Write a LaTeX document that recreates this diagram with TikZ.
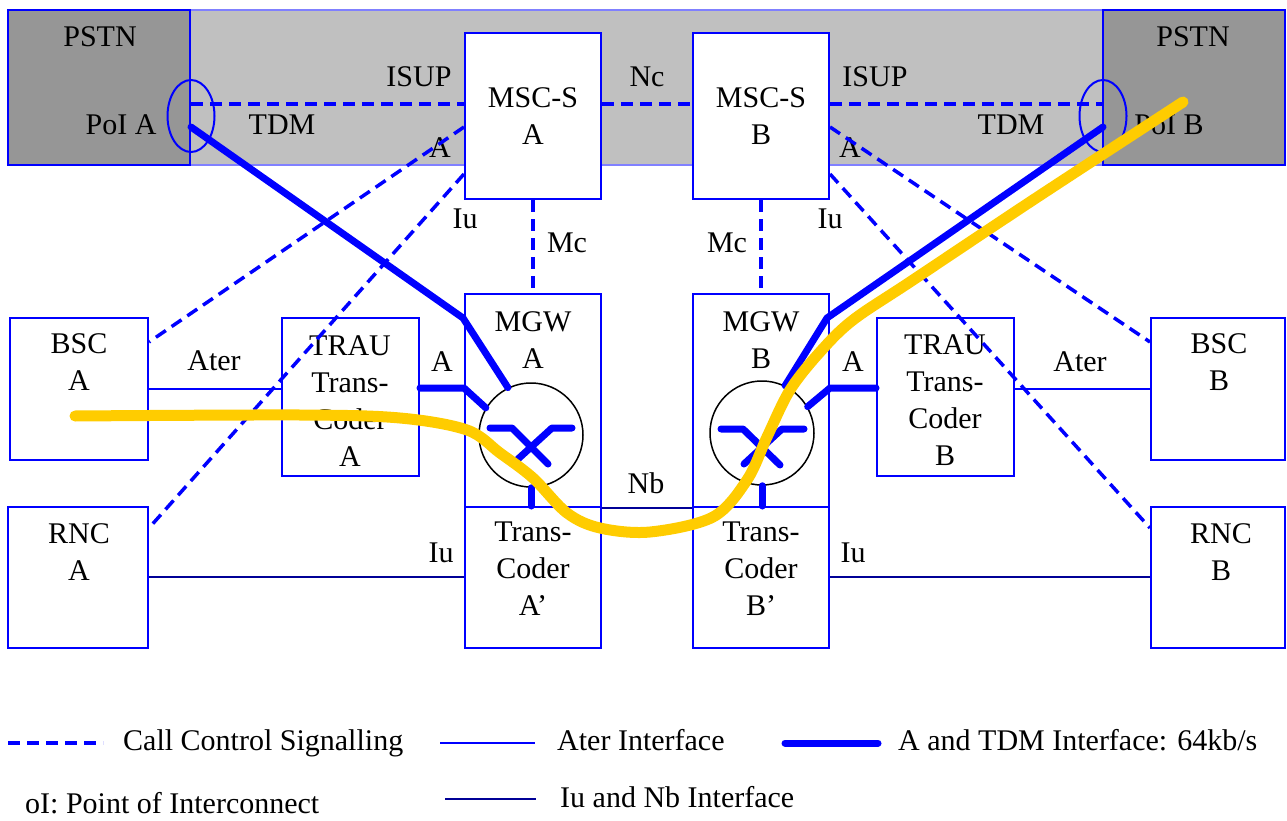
\documentclass[tikz,border=0pt]{standalone}
\usepackage{fontspec}
\setmainfont{Liberation Serif}
\usetikzlibrary{shapes.geometric}
\definecolor{myblue}{RGB}{0,0,255}
\definecolor{mynavy}{RGB}{0,0,150}
\definecolor{darkgr}{RGB}{150,150,150}
\definecolor{lightgr}{RGB}{192,192,192}
\definecolor{bandline}{RGB}{128,128,255}
\definecolor{myyellow}{RGB}{255,204,0}
\begin{document}
\begin{tikzpicture}[x=1pt,y=-1pt,
  box/.style={draw=myblue, line width=2pt, rectangle, inner sep=0pt},
  wbox/.style={box, fill=white},
  lbl/.style={font=\fontsize{30}{37}\selectfont, inner sep=0pt, align=center, text=black},
  sig/.style={draw=myblue, line width=3.5pt, dash pattern=on 12pt off 7pt},
  ater/.style={draw=myblue, line width=2pt},
  iunb/.style={draw=mynavy, line width=2.5pt},
  tdm/.style={draw=myblue, line width=7pt, line cap=round, line join=round},
  yel/.style={draw=myyellow, line width=11pt, line cap=round, line join=round},
  poi/.style={draw=myblue, line width=2pt, ellipse, minimum width=47pt, minimum height=72pt, inner sep=0pt},
  sw/.style={draw=black, line width=1.5pt, circle, minimum size=104pt, inner sep=0pt}
]
\useasboundingbox (0,0) rectangle (1287,821);

% top band and PSTNs
\node[draw=bandline, line width=1.5pt, fill=lightgr, rectangle, inner sep=0pt, minimum width=1277pt, minimum height=155pt] (band) at (646.5,87.5) {};
\node[box, fill=darkgr, minimum width=182pt, minimum height=155pt] (pstnA) at (99,87.5) {};
\node[box, fill=darkgr, minimum width=182pt, minimum height=155pt] (pstnB) at (1194,87.5) {};
\node[lbl, anchor=base] (tPstnA) at (100,47) {PSTN};
\node[lbl, anchor=base] (tPstnB) at (1193,47) {PSTN};
\node[lbl, anchor=base] (tPoiA) at (121,135) {PoI A};
\node[lbl, anchor=base] (tPoiB) at (1169,135) {PoI B};
\node[poi] (poiA) at (191,116) {};
\node[poi] (poiB) at (1103,116) {};

% MSC servers
\node[wbox, minimum width=136pt, minimum height=166pt] (mscA) at (533,116) {};
\node[wbox, minimum width=136pt, minimum height=166pt] (mscB) at (761,116) {};
\node[lbl, anchor=north] (tMscA) at (533,87) {MSC-S\\A};
\node[lbl, anchor=north] (tMscB) at (761,87) {MSC-S\\B};

% MGWs and transcoders
\node[box, minimum width=136pt, minimum height=213pt] (mgwA) at (533,400.5) {};
\node[box, minimum width=136pt, minimum height=141pt] (tcA) at (533,577.5) {};
\node[box, minimum width=136pt, minimum height=213pt] (mgwB) at (761,400.5) {};
\node[box, minimum width=136pt, minimum height=141pt] (tcB) at (761,577.5) {};
\node[lbl, anchor=north] (tMgwA) at (533,311) {MGW\\A};
\node[lbl, anchor=north] (tMgwB) at (761,311) {MGW\\B};
\node[lbl, anchor=north] (tTcA) at (533,522) {Trans-\\Coder\\A'};
\node[lbl, anchor=north] (tTcB) at (761,522) {Trans-\\Coder\\B'};
\node[sw] (circA) at (531,435) {};
\node[sw] (circB) at (762,433) {};

% BSC, TRAU, RNC
\node[box, minimum width=138pt, minimum height=142pt] (bscA) at (79,389) {};
\node[box, minimum width=137pt, minimum height=158pt] (trauA) at (350.5,397) {};
\node[box, minimum width=137pt, minimum height=158pt] (trauB) at (945.5,397) {};
\node[box, minimum width=134pt, minimum height=142pt] (bscB) at (1218,389) {};
\node[box, minimum width=140pt, minimum height=141pt] (rncA) at (78,577.5) {};
\node[box, minimum width=134pt, minimum height=141pt] (rncB) at (1218,577.5) {};
\node[lbl, anchor=north] (tBscA) at (79,333) {BSC\\A};
\node[lbl, anchor=north] (tBscB) at (1219,333) {BSC\\B};
\node[lbl, anchor=north] (tTrauA) at (350,335) {TRAU\\Trans-\\Coder\\A};
\node[lbl, anchor=north] (tTrauB) at (945,334) {TRAU\\Trans-\\Coder\\B};
\node[lbl, anchor=north] (tRncA) at (79,523) {RNC\\A};
\node[lbl, anchor=north] (tRncB) at (1221,523) {RNC\\B};

% interface labels
\node[lbl, anchor=base] (lIsupA) at (419,87) {ISUP};
\node[lbl, anchor=base] (lIsupB) at (875,87) {ISUP};
\node[lbl, anchor=base] (lTdmA) at (282,135) {TDM};
\node[lbl, anchor=base] (lTdmB) at (1011,135) {TDM};
\node[lbl, anchor=base] (lAa) at (440,158) {A};
\node[lbl, anchor=base] (lAb) at (850,158) {A};
\node[lbl, anchor=base] (lNc) at (647,87) {Nc};
\node[lbl, anchor=base] (lIuA) at (465,228) {Iu};
\node[lbl, anchor=base] (lIuB) at (830,228) {Iu};
\node[lbl, anchor=base] (lMcA) at (567,252) {Mc};
\node[lbl, anchor=base] (lMcB) at (727,252) {Mc};
\node[lbl, anchor=base] (lAtA) at (442,371) {A};
\node[lbl, anchor=base] (lAtB) at (853,371) {A};
\node[lbl, anchor=base] (lNb) at (646,493) {Nb};
\node[lbl, anchor=base] (lAterA) at (214,370) {Ater};
\node[lbl, anchor=base] (lAterB) at (1080,371) {Ater};
\node[lbl, anchor=base] (lIuA2) at (441,562) {Iu};
\node[lbl, anchor=base] (lIuB2) at (853,562) {Iu};

% signalling
\draw[sig] (pstnA.east |- 0,104) -- (mscA.west |- 0,104);
\draw[sig] (mscA.east |- 0,104) -- (mscB.west |- 0,104);
\draw[sig] (mscB.east |- 0,104) -- (pstnB.west |- 0,104);
\draw[sig] (mscA.south) -- (mgwA.north);
\draw[sig] (mscB.south) -- (mgwB.north);
\draw[sig] (mscA.west |- 0,127) -- (bscA.east |- 0,342);
\draw[sig] (mscA.west |- 0,174) -- (rncA.east |- 0,528);
\draw[sig] (mscB.east |- 0,127) -- (bscB.west |- 0,342);
\draw[sig] (mscB.east |- 0,174) -- (rncB.west |- 0,528);

% Ater, Iu, Nb
\draw[ater] (bscA.east |- 0,389) -- (trauA.west |- 0,389);
\draw[ater] (trauB.east |- 0,389) -- (bscB.west |- 0,389);
\draw[iunb] (rncA.east |- 0,577) -- (tcA.west |- 0,577);
\draw[iunb] (tcB.east |- 0,577) -- (rncB.west |- 0,577);
\draw[iunb] (mgwA.south east) -- (mgwB.south west);

% A / TDM 64 kb/s
\coordinate (tdmA) at (191,127);
\coordinate (tdmB) at (1103,127);
\draw[tdm] (tdmA) -- (463,318) -- (circA.116);
\draw[tdm] (trauA.east |- 0,388) -- (mgwA.west |- 0,388) -- (circA.149);
\draw[tdm] (tdmB) -- (827,318) -- (circB.64);
\draw[tdm] (trauB.west |- 0,388) -- (mgwB.east |- 0,388) -- (circB.30);
\draw[tdm] (circA) ++(-41,-7) -- ++(22,0) -- ++(36,36);
\draw[tdm] (circA) ++(41,-7) -- ++(-20,0) -- ++(-34,31);
\draw[tdm] (circB) ++(-41,-4) -- ++(22,0) -- ++(37,36);
\draw[tdm] (circB) ++(42,-4) -- ++(-22,0) -- ++(-38,35);
\draw[tdm] (circA.south) -- (circA.south |- tcA.north);
\draw[tdm] (circB.south) -- (circB.south |- tcB.north);

% bearer path
\draw[yel] plot[smooth, tension=0.55] coordinates {(75,416) (300,415) (400,418) (467,430) (500,453) (533,478) (567,513) (600,528) (650,532) (713,517) (747,480) (767,437) (790,390) (820,352) (853,320) (913,280) (1033,200) (1183,102)};

% legend
\coordinate (lg1a) at (8,743); \coordinate (lg1b) at (103,743);
\draw[sig] (lg1a) -- (lg1b);
\node[lbl, anchor=base west] (lgt1) at (123,750) {Call Control Signalling};
\coordinate (lg2a) at (440,743); \coordinate (lg2b) at (535,743);
\draw[ater] (lg2a) -- (lg2b);
\node[lbl, anchor=base west] (lgt2) at (557,750) {Ater Interface};
\coordinate (lg3a) at (785,743); \coordinate (lg3b) at (878,743);
\draw[tdm] (lg3a) -- (lg3b);
\node[lbl, anchor=base west] (lgt3) at (898,750) {A and TDM Interface: 64kb/s};
\coordinate (lg4a) at (445,799); \coordinate (lg4b) at (536,799);
\draw[iunb] (lg4a) -- (lg4b);
\node[lbl, anchor=base west] (lgt4) at (560,807) {Iu and Nb Interface};
\node[lbl, anchor=base west] (lgt5) at (25,813) {oI: Point of Interconnect};
\end{tikzpicture}
\end{document}
